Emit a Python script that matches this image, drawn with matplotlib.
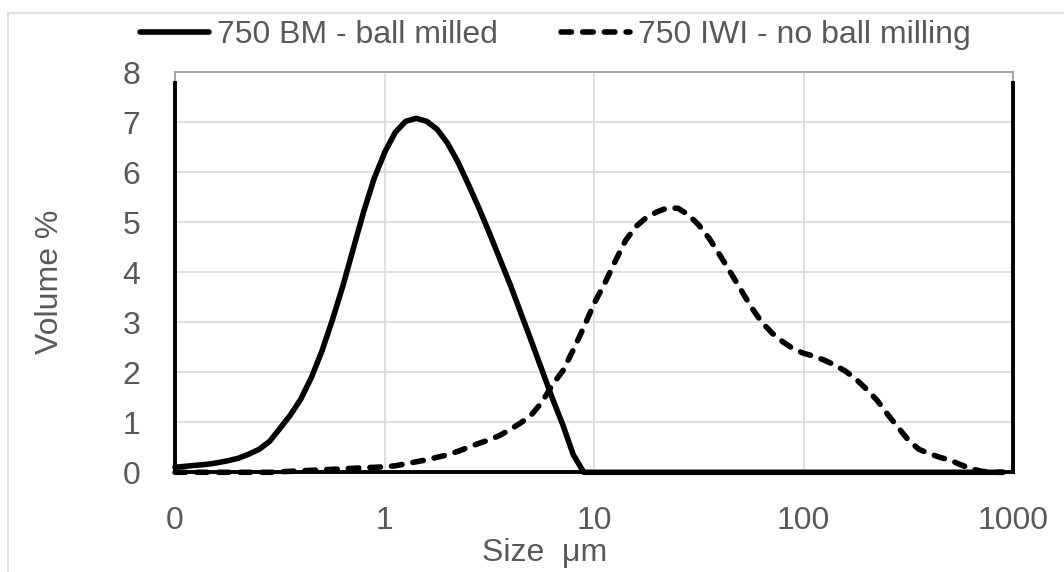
import matplotlib
matplotlib.use("Agg")
import matplotlib.pyplot as plt
from matplotlib.patches import Rectangle

# particle size bins (um), log spaced as exported by the laser sizer
sizes = [
    0.100, 0.112, 0.126, 0.142, 0.159, 0.178, 0.200, 0.224, 0.252, 0.283,
    0.317, 0.356, 0.399, 0.448, 0.502, 0.564, 0.632, 0.710, 0.796, 0.893,
    1.002, 1.125, 1.262, 1.416, 1.589, 1.783, 2.000, 2.244, 2.518, 2.825,
    3.170, 3.557, 3.991, 4.477, 5.024, 5.637, 6.325, 7.096, 7.962, 8.934,
    10.02, 11.25, 12.62, 14.16, 15.89, 17.83, 20.00, 22.44, 25.18, 28.25,
    31.70, 35.57, 39.91, 44.77, 50.24, 56.37, 63.25, 70.96, 79.62, 89.34,
    100.2, 112.5, 126.2, 141.6, 158.9, 178.3, 200.0, 224.4, 251.8, 282.5,
    317.0, 355.7, 399.1, 447.7, 502.4, 563.7, 632.5, 709.6, 796.2, 893.4,
]

# volume % per bin, 750 BM (ball milled)
vol_bm = [
    0.10, 0.12, 0.14, 0.16, 0.19, 0.23, 0.28, 0.36, 0.46, 0.62,
    0.88, 1.15, 1.47, 1.90, 2.42, 3.05, 3.72, 4.48, 5.22, 5.88,
    6.40, 6.80, 7.02, 7.08, 7.02, 6.86, 6.58, 6.20, 5.75, 5.28,
    4.78, 4.26, 3.74, 3.18, 2.62, 2.05, 1.48, 0.95, 0.35, 0.00,
    0.00, 0.00, 0.00, 0.00, 0.00, 0.00, 0.00, 0.00, 0.00, 0.00,
    0.00, 0.00, 0.00, 0.00, 0.00, 0.00, 0.00, 0.00, 0.00, 0.00,
    0.00, 0.00, 0.00, 0.00, 0.00, 0.00, 0.00, 0.00, 0.00, 0.00,
    0.00, 0.00, 0.00, 0.00, 0.00, 0.00, 0.00, 0.00, 0.00, 0.00,
]

# volume % per bin, 750 IWI (no ball milling)
vol_iwi = [
    0.00, 0.00, 0.00, 0.00, 0.00, 0.00, 0.00, 0.00, 0.00, 0.00,
    0.01, 0.02, 0.03, 0.04, 0.05, 0.06, 0.07, 0.08, 0.09, 0.10,
    0.11, 0.13, 0.17, 0.21, 0.25, 0.30, 0.35, 0.42, 0.50, 0.58,
    0.65, 0.74, 0.86, 0.99, 1.15, 1.40, 1.75, 2.03, 2.45, 2.90,
    3.38, 3.78, 4.22, 4.64, 4.92, 5.10, 5.21, 5.29, 5.28, 5.15,
    4.94, 4.67, 4.34, 4.00, 3.65, 3.30, 3.00, 2.78, 2.61, 2.47,
    2.38, 2.32, 2.24, 2.14, 2.02, 1.86, 1.66, 1.44, 1.16, 0.90,
    0.64, 0.46, 0.37, 0.30, 0.24, 0.15, 0.07, 0.02, 0.00, 0.00,
]

x_ticks = [0.1, 1, 10, 100, 1000]
x_tick_labels = ["0", "1", "10", "100", "1000"]
y_ticks = [0, 1, 2, 3, 4, 5, 6, 7, 8]

label_bm = "750 BM - ball milled"
label_iwi = "750 IWI - no ball milling"

plt.rcParams["font.family"] = ["Liberation Sans", "DejaVu Sans"]
TEXT = "#595959"
FS = 23

fig = plt.figure(figsize=(10.64, 5.72), dpi=100)
ax = fig.add_axes([0.1645, 0.1743, 0.7876, 0.6993])

# light outer chart border
fig.add_artist(Rectangle((8 / 1064, -0.2), 1.2, 1.2 - 13 / 572,
                         transform=fig.transFigure, fill=False,
                         ec="#d9d9d9", lw=1.2))

ax.plot(sizes, vol_bm, color="black", lw=4, solid_capstyle="round",
        solid_joinstyle="round", clip_on=False, label=label_bm, zorder=3)
ax.plot(sizes, vol_iwi, color="black", lw=4, linestyle=(0, (1.9, 2.0)),
        dash_capstyle="round", dash_joinstyle="round", clip_on=False,
        label=label_iwi, zorder=3)

ax.set_xscale("log")
ax.set_xlim(0.1, 1000)
ax.set_ylim(0, 8)
ax.set_xticks(x_ticks)
ax.set_xticklabels(x_tick_labels)
ax.set_yticks(y_ticks)
ax.minorticks_off()
ax.tick_params(axis="x", length=0, pad=24, labelsize=FS, labelcolor=TEXT)
ax.tick_params(axis="y", length=0, pad=25, labelsize=FS, labelcolor=TEXT)

ax.grid(True, color="#d9d9d9", lw=1.2)
ax.set_axisbelow(True)

# plot-area frame: thin grey outline, heavy black axis lines
ax.add_patch(Rectangle((0, 0), 1, 1, transform=ax.transAxes, fill=False,
                       ec="#a6a6a6", lw=1.5, clip_on=False, zorder=2))
ax.spines["top"].set_visible(False)
for side in ("left", "right", "bottom"):
    ax.spines[side].set_color("black")
    ax.spines[side].set_linewidth(2.8)
    ax.spines[side].set_zorder(4)
ax.spines["left"].set_bounds(0, 7.78)
ax.spines["right"].set_bounds(0, 7.78)

ax.set_ylabel("Volume %", fontsize=FS, color=TEXT)
ax.yaxis.set_label_coords((50 - 175) / 838, (472.3 - 282) / 400)
ax.yaxis.label.set_va("center")
ax.set_xlabel("Size  μm", fontsize=FS, color=TEXT)
ax.xaxis.set_label_coords((545 - 175) / 838, (472.3 - 553) / 400)
ax.xaxis.label.set_va("center")

leg = ax.legend(loc="center", bbox_to_anchor=(555.5 / 1064, 1 - 35 / 572),
                bbox_transform=fig.transFigure, ncol=2, frameon=False,
                fontsize=FS, handlelength=2.16, handletextpad=0.25,
                columnspacing=1.97, borderpad=0.2)
for t in leg.get_texts():
    t.set_color(TEXT)

fig.savefig("out.png", dpi=100)
